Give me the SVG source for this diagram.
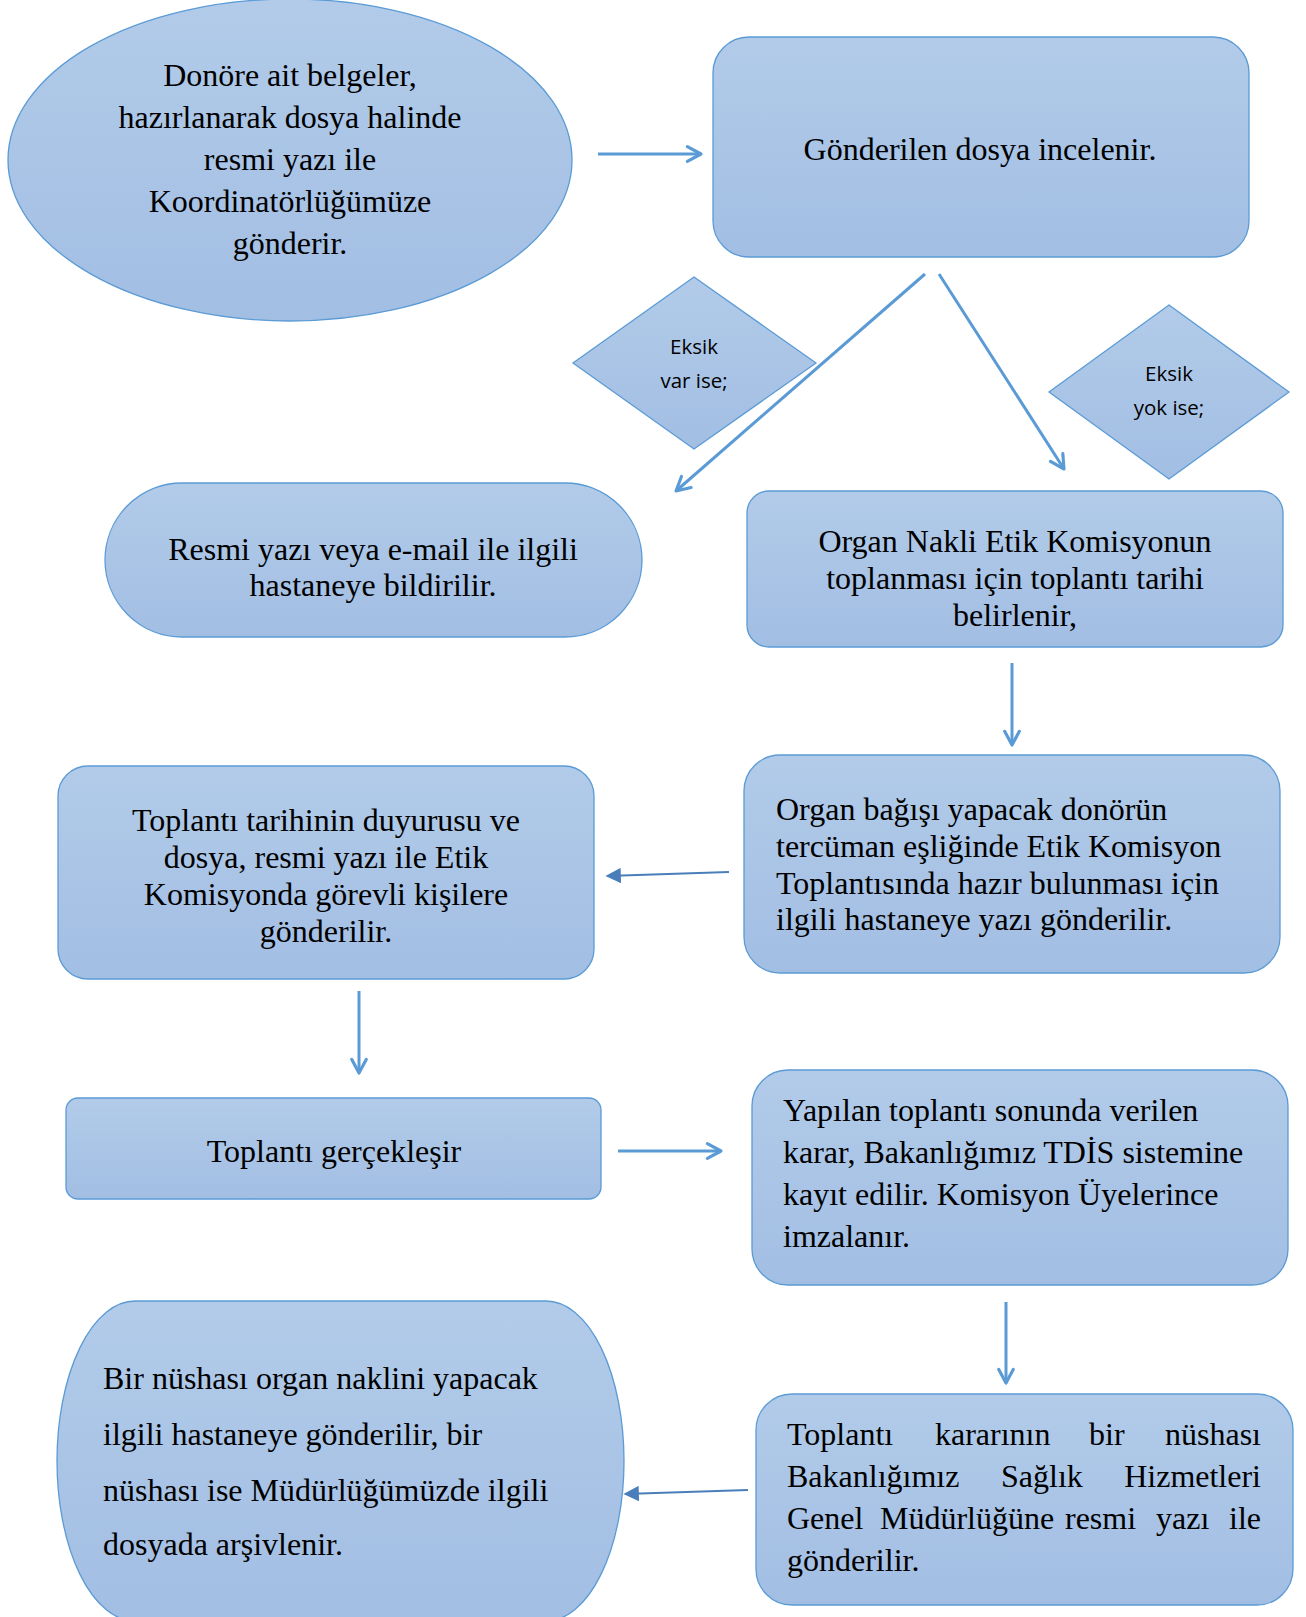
<svg xmlns="http://www.w3.org/2000/svg" width="1306" height="1617" viewBox="0 0 1306 1617">
<defs>
<linearGradient id="g" x1="0" y1="0" x2="0" y2="1">
<stop offset="0" stop-color="#b2cbe9"/>
<stop offset="1" stop-color="#a2bee3"/>
</linearGradient>
<marker id="open" viewBox="0 0 20 20" refX="17" refY="10" markerWidth="7" markerHeight="7" markerUnits="strokeWidth" orient="auto">
<path d="M4 3 L17 10 L4 17" fill="none" stroke="#5b9bd5" stroke-width="3" stroke-linecap="round" stroke-linejoin="round"/>
</marker>
<marker id="tri" viewBox="0 0 10 10" refX="9" refY="5" markerWidth="7" markerHeight="7" markerUnits="strokeWidth" orient="auto">
<path d="M0 0 L10 5 L0 10 Z" fill="#4a7ebb"/>
</marker>
</defs>
<style>
.s{fill:url(#g);stroke:#5b9bd5;stroke-width:1.3}
.t{font-family:"Liberation Serif","Times New Roman",serif;font-size:32px;fill:#000}
.c{text-anchor:middle}
.e{text-anchor:end}
.d{font-family:"Open Sans","Liberation Sans",sans-serif;font-size:20.5px;fill:#000;text-anchor:middle}
.a{fill:none;stroke:#5b9bd5;stroke-width:3;marker-end:url(#open)}
.b{fill:none;stroke:#4a7ebb;stroke-width:2.2;marker-end:url(#tri)}
</style>
<rect width="1306" height="1617" fill="#fff"/>

<g id="n1">
<ellipse class="s" cx="290" cy="160" rx="282" ry="161"/>
<text class="t c" x="290" y="86">Donöre ait belgeler,</text>
<text class="t c" x="290" y="128">hazırlanarak dosya halinde</text>
<text class="t c" x="290" y="170">resmi yazı ile</text>
<text class="t c" x="290" y="212">Koordinatörlüğümüze</text>
<text class="t c" x="290" y="254">gönderir.</text>
</g>

<g id="n2">
<rect class="s" x="713" y="37" width="536" height="220" rx="36"/>
<text class="t c" x="980" y="160">Gönderilen dosya incelenir.</text>
</g>

<g id="d1">
<polygon class="s" points="694,277 816,363 694,449 573,363"/>
<text class="d" x="694" y="354">Eksik</text>
<text class="d" x="694" y="388">var ise;</text>
</g>

<g id="d2">
<polygon class="s" points="1169,305 1289,392 1169,479 1049,392"/>
<text class="d" x="1169" y="381">Eksik</text>
<text class="d" x="1169" y="415">yok ise;</text>
</g>

<g id="n3">
<rect class="s" x="105" y="483" width="537" height="154" rx="77"/>
<text class="t c" x="373" y="560">Resmi yazı veya e-mail ile ilgili</text>
<text class="t c" x="373" y="596">hastaneye bildirilir.</text>
</g>

<g id="n4">
<rect class="s" x="747" y="491" width="536" height="156" rx="22"/>
<text class="t c" x="1015" y="552">Organ Nakli Etik Komisyonun</text>
<text class="t c" x="1015" y="589">toplanması için toplantı tarihi</text>
<text class="t c" x="1015" y="626">belirlenir,</text>
</g>

<g id="n5">
<rect class="s" x="744" y="755" width="536" height="218" rx="36"/>
<text class="t" x="776" y="820">Organ bağışı yapacak donörün</text>
<text class="t" x="776" y="857">tercüman eşliğinde Etik Komisyon</text>
<text class="t" x="776" y="894">Toplantısında hazır bulunması için</text>
<text class="t" x="776" y="930">ilgili hastaneye yazı gönderilir.</text>
</g>

<g id="n6">
<rect class="s" x="58" y="766" width="536" height="213" rx="30"/>
<text class="t c" x="326" y="831">Toplantı tarihinin duyurusu ve</text>
<text class="t c" x="326" y="868">dosya, resmi yazı ile Etik</text>
<text class="t c" x="326" y="905">Komisyonda görevli kişilere</text>
<text class="t c" x="326" y="942">gönderilir.</text>
</g>

<g id="n7">
<rect class="s" x="66" y="1098" width="535" height="101" rx="12"/>
<text class="t c" x="334" y="1162">Toplantı gerçekleşir</text>
</g>

<g id="n8">
<rect class="s" x="752" y="1070" width="536" height="215" rx="36"/>
<text class="t" x="783" y="1121">Yapılan toplantı sonunda verilen</text>
<text class="t" x="783" y="1163">karar, Bakanlığımız TDİS sistemine</text>
<text class="t" x="783" y="1205">kayıt edilir. Komisyon Üyelerince</text>
<text class="t" x="783" y="1247">imzalanır.</text>
</g>

<g id="n9">
<rect class="s" x="756" y="1394" width="537" height="211" rx="36"/>
<text class="t" y="1445"><tspan x="787">Toplantı</tspan> <tspan x="935">kararının</tspan> <tspan x="1089">bir</tspan> <tspan x="1261" text-anchor="end">nüshası</tspan></text>
<text class="t" y="1487"><tspan x="787">Bakanlığımız</tspan> <tspan x="1001">Sağlık</tspan> <tspan x="1261" text-anchor="end">Hizmetleri</tspan></text>
<text class="t" y="1529"><tspan x="787">Genel</tspan> <tspan x="880">Müdürlüğüne</tspan> <tspan x="1065">resmi</tspan> <tspan x="1156">yazı</tspan> <tspan x="1261" text-anchor="end">ile</tspan></text>
<text class="t" x="787" y="1571">gönderilir.</text>
</g>

<g id="n10">
<path class="s" d="M135 1301 H546 A78 160 0 0 1 546 1621 H135 A78 160 0 0 1 135 1301 Z"/>
<text class="t" x="103" y="1389">Bir nüshası organ naklini yapacak</text>
<text class="t" x="103" y="1445">ilgili hastaneye gönderilir, bir</text>
<text class="t" x="103" y="1501">nüshası ise Müdürlüğümüzde ilgili</text>
<text class="t" x="103" y="1555">dosyada arşivlenir.</text>
</g>

<g id="connectors">
<line class="a" x1="598" y1="154" x2="701" y2="154"/>
<line class="a" x1="925" y1="274" x2="676" y2="491"/>
<line class="a" x1="939" y1="274" x2="1064" y2="469"/>
<line class="a" x1="1012" y1="663" x2="1012" y2="745"/>
<line class="b" x1="729" y1="872" x2="607" y2="876"/>
<line class="a" x1="359" y1="991" x2="359" y2="1073"/>
<line class="a" x1="618" y1="1151" x2="721" y2="1151"/>
<line class="a" x1="1006" y1="1302" x2="1006" y2="1383"/>
<line class="b" x1="748" y1="1490" x2="625" y2="1494"/>
</g>
</svg>
